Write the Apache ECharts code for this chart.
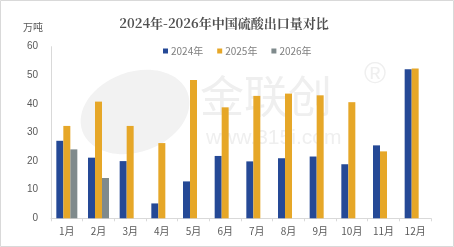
<!DOCTYPE html>
<html><head><meta charset="utf-8">
<script src="https://cdn.jsdelivr.net/npm/echarts@6/dist/echarts.min.js"></script>
<style>html,body{margin:0;padding:0;background:#fff}#c{width:454px;height:247px}</style>
</head><body><div id="c"></div>
<script>
var categories = ['1月','2月','3月','4月','5月','6月','7月','8月','9月','10月','11月','12月'];
var seriesNames = ['2024年','2025年','2026年'];
var data2024 = [27.1,21.2,20.0,5.2,12.9,21.8,19.9,21.0,21.6,18.9,25.5,52.1];
var data2025 = [32.3,40.8,32.3,26.3,48.4,38.8,42.8,43.6,43.0,40.6,23.4,52.4];
var data2026 = [24.1,14.1,null,null,null,null,null,null,null,null,null,null];
var yTicks = {min:0, max:60, interval:10};
var colors = ['#254996','#E6A728','#7F8A8C'];
var titleText = '2024年-2026年中国硫酸出口量对比';
var unitText = '万吨';

var chart = echarts.init(document.getElementById('c'), null, {renderer:'canvas'});
var font = '"Microsoft YaHei","Noto Sans CJK SC",sans-serif';
chart.setOption({
  animation:false,
  color:colors,
  title:{text:titleText,left:219,textAlign:'center',top:12,
    textStyle:{fontSize:13,fontWeight:'bold',color:'#505050',fontFamily:'"Noto Serif CJK SC","Noto Sans CJK SC",serif'}},
  graphic:[
    {type:'rect',shape:{x:0.5,y:0.5,width:453,height:246},style:{fill:null,stroke:'#d9d9d9',lineWidth:1},z:-10},
    {type:'ellipse',shape:{cx:135,cy:112,rx:56,ry:40},rotation:0.35,originX:135,originY:112,style:{fill:'#f2f2f2'},z:-5},
    {type:'text',left:200,top:74,style:{text:'金联创',fontSize:44,fill:'#efefef',fontFamily:font},z:-5},
    {type:'text',left:364,top:60,style:{text:'®',fontSize:30,fill:'#efefef',fontFamily:'Arial, sans-serif'},z:-5},
    {type:'text',left:206,top:128,style:{text:'www.315i.com',fontSize:21,fill:'#efefef',fontFamily:'Arial, sans-serif'},z:-5},
    {type:'text',left:23,top:22,style:{text:unitText,fontSize:10,fill:'#595959',fontFamily:font}}
  ],
  legend:{data:seriesNames,top:41,left:158,itemWidth:5,itemHeight:5,itemGap:14,icon:'rect',
    textStyle:{fontSize:10,color:'#7f7f7f',fontFamily:font,padding:[0,0,0,-2]}},
  grid:{left:51,right:23,top:46.7,bottom:28.7,containLabel:false},
  xAxis:{type:'category',data:categories,
    axisLine:{lineStyle:{color:'#d9d9d9'}},
    axisTick:{show:true,length:3,lineStyle:{color:'#d9d9d9'}},
    axisLabel:{fontSize:10,color:'#595959',fontFamily:font,margin:8}},
  yAxis:{type:'value',min:yTicks.min,max:yTicks.max,interval:yTicks.interval,
    axisLine:{show:true,lineStyle:{color:'#d9d9d9'}},axisTick:{show:false},
    splitLine:{show:false},
    axisLabel:{fontSize:10,color:'#595959',fontFamily:'Arial, sans-serif',margin:13}},
  series:[
    {name:seriesNames[0],type:'bar',data:data2024,barWidth:7,barGap:'0%'},
    {name:seriesNames[1],type:'bar',data:data2025,barWidth:7,barGap:'0%'},
    {name:seriesNames[2],type:'bar',data:data2026,barWidth:7,barGap:'0%'}
  ]
});
</script></body></html>
